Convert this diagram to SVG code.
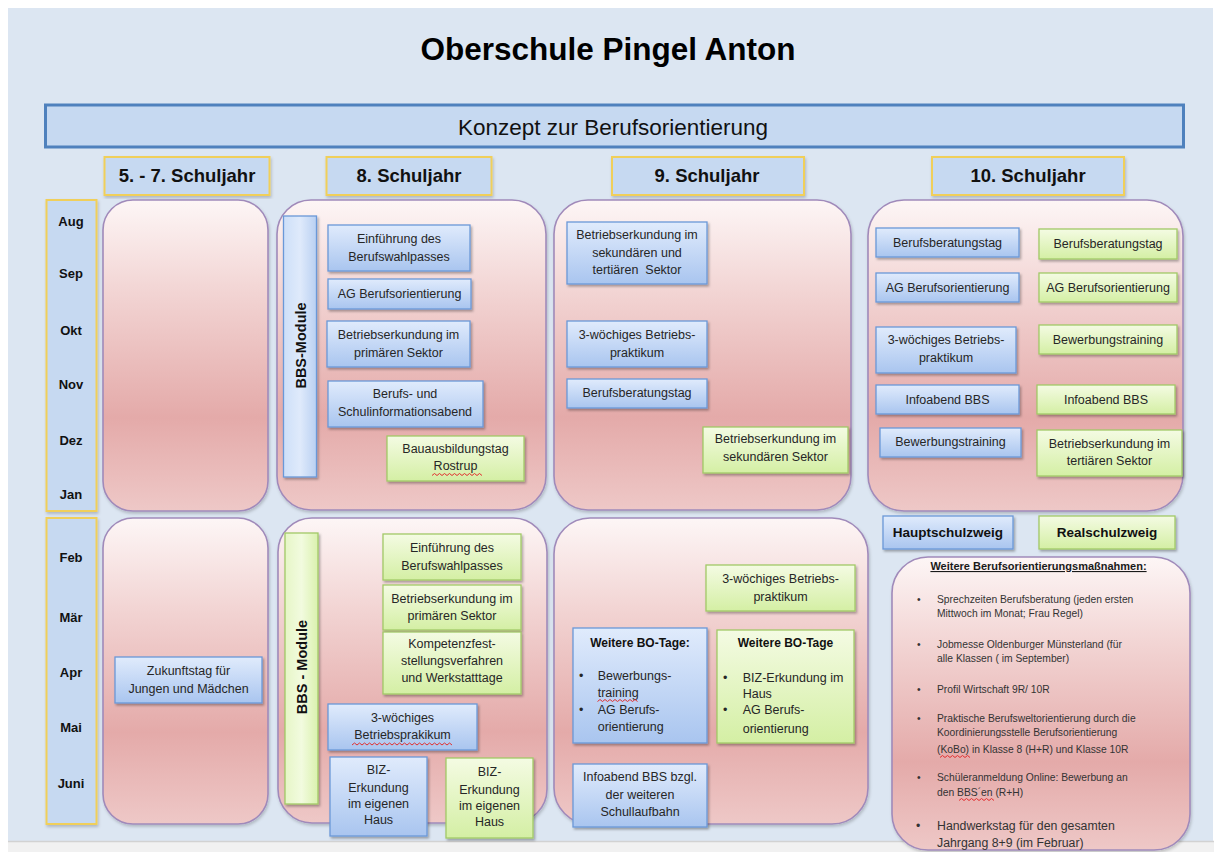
<svg xmlns="http://www.w3.org/2000/svg" width="1214" height="852" viewBox="0 0 1214 852">
<defs>
<linearGradient id="gPink" x1="0" y1="0" x2="0" y2="1">
<stop offset="0" stop-color="#fdf6f6"/><stop offset="0.3" stop-color="#f2d4d3"/><stop offset="0.7" stop-color="#e4aaa9"/><stop offset="1" stop-color="#eec8c7"/>
</linearGradient>
<linearGradient id="gBlue" x1="0" y1="0" x2="0" y2="1">
<stop offset="0" stop-color="#e0ebfc"/><stop offset="1" stop-color="#a9c5ef"/>
</linearGradient>
<linearGradient id="gGreen" x1="0" y1="0" x2="0" y2="1">
<stop offset="0" stop-color="#f4fbe3"/><stop offset="1" stop-color="#d4efa4"/>
</linearGradient>
<linearGradient id="gBlueBar" x1="0" y1="0" x2="1" y2="0">
<stop offset="0" stop-color="#cddff8"/><stop offset="0.5" stop-color="#dfeafb"/><stop offset="1" stop-color="#b9d0f2"/>
</linearGradient>
<linearGradient id="gGreenBar" x1="0" y1="0" x2="1" y2="0">
<stop offset="0" stop-color="#e6f6c6"/><stop offset="0.5" stop-color="#f2fbdf"/><stop offset="1" stop-color="#daf1ae"/>
</linearGradient>
<filter id="sh" x="-10%" y="-10%" width="130%" height="140%">
<feDropShadow dx="1.5" dy="2" stdDeviation="1.2" flood-color="#000" flood-opacity="0.3"/>
</filter>
<filter id="shp" x="-5%" y="-5%" width="115%" height="115%">
<feDropShadow dx="1" dy="2" stdDeviation="1.5" flood-color="#000" flood-opacity="0.2"/>
</filter>
</defs>
<style>
text{font-family:"Liberation Sans",Arial,sans-serif;fill:#262626}
.t{font-size:12.5px;text-anchor:middle}
.tl{font-size:12.5px}
.b{font-weight:bold}
.bt{font-size:12px;font-weight:bold;text-anchor:middle;fill:#111}
.lg{font-size:13.5px;font-weight:bold;text-anchor:middle;fill:#111}
.mon{font-size:13px;font-weight:bold;text-anchor:middle;fill:#111}
.hdrt{font-size:18.5px;font-weight:bold;text-anchor:middle;fill:#111}
.li{font-size:10.3px;fill:#333}
.li2{font-size:12.3px;fill:#333}
.bx-b{fill:url(#gBlue);stroke:#6a98d8;stroke-width:1.3;filter:url(#sh)}
.bx-g{fill:url(#gGreen);stroke:#a2c967;stroke-width:1.3;filter:url(#sh)}
.panel{fill:url(#gPink);stroke:#a08aba;stroke-width:1.6;filter:url(#shp)}
.hdr{fill:#c6d9f1;stroke:#f0cf5a;stroke-width:2;filter:url(#shp)}
.sq{fill:none;stroke:#e23030;stroke-width:1}
</style>

<rect x="0" y="0" width="1214" height="852" fill="#ffffff"/>
<rect x="8" y="8" width="1205" height="833" fill="#dce6f2"/>
<rect x="8" y="841" width="1206" height="11" fill="#f1f1f1"/>
<line x1="8" y1="841.5" x2="1214" y2="841.5" stroke="#d2d2d2" stroke-width="1.5"/>

<g id="title">
<text x="608" y="60" text-anchor="middle" style="font-size:31.5px;font-weight:bold;fill:#000">Oberschule Pingel Anton</text>
</g>

<g id="banner">
<rect x="45.5" y="105" width="1138" height="42" fill="#c6d9f1" stroke="#4f81bd" stroke-width="3"/>
<text x="613" y="134.5" text-anchor="middle" style="font-size:22.5px;fill:#111">Konzept zur Berufsorientierung</text>
</g>

<g id="hdr57"><rect class="hdr" x="104.5" y="157" width="165" height="38"/><text class="hdrt" x="187" y="182">5. - 7. Schuljahr</text></g>
<g id="hdr8"><rect class="hdr" x="326.5" y="157" width="165" height="38"/><text class="hdrt" x="409" y="182">8. Schuljahr</text></g>
<g id="hdr9"><rect class="hdr" x="612" y="157" width="192" height="38"/><text class="hdrt" x="707" y="182">9. Schuljahr</text></g>
<g id="hdr10"><rect class="hdr" x="932" y="157" width="192" height="38"/><text class="hdrt" x="1028" y="182">10. Schuljahr</text></g>

<g id="months1">
<rect class="hdr" x="46.5" y="200" width="50" height="311"/>
<text class="mon" x="71" y="225.5">Aug</text>
<text class="mon" x="71" y="277.5">Sep</text>
<text class="mon" x="71" y="334.5">Okt</text>
<text class="mon" x="71" y="388.5">Nov</text>
<text class="mon" x="71" y="444.5">Dez</text>
<text class="mon" x="71" y="498.5">Jan</text>
</g>
<g id="months2">
<rect class="hdr" x="46.5" y="518" width="50" height="306"/>
<text class="mon" x="71" y="562">Feb</text>
<text class="mon" x="71" y="621.5">Mär</text>
<text class="mon" x="71" y="676.5">Apr</text>
<text class="mon" x="71" y="731.5">Mai</text>
<text class="mon" x="71" y="787.5">Juni</text>
</g>

<g id="panel1"><rect class="panel" x="103" y="200" width="165" height="311" rx="30"/></g>

<g id="panel2">
<rect class="panel" x="277" y="200" width="269" height="310" rx="34"/>
<g id="bbs1"><rect x="283.5" y="216" width="33" height="261" fill="url(#gBlueBar)" stroke="#6a98d8" stroke-width="1.3" filter="url(#sh)"/>
<text transform="translate(300.5,345.5) rotate(-90)" text-anchor="middle" dominant-baseline="central" style="font-size:14.5px;font-weight:bold;fill:#111">BBS-Module</text></g>
<g id="p2b1"><rect class="bx-b" x="328" y="225" width="142" height="46"/><text class="t" x="399" y="243.4">Einführung des</text><text class="t" x="399" y="261.1">Berufswahlpasses</text></g>
<g id="p2b2"><rect class="bx-b" x="328" y="279" width="143" height="30"/><text class="t" x="399.5" y="297.6">AG Berufsorientierung</text></g>
<g id="p2b3"><rect class="bx-b" x="327" y="321" width="143" height="46"/><text class="t" x="398.5" y="338.7">Betriebserkundung im</text><text class="t" x="398.5" y="356.7">primären Sektor</text></g>
<g id="p2b4"><rect class="bx-b" x="328" y="381" width="155" height="46"/><text class="t" x="405" y="398.4">Berufs- und</text><text class="t" x="405" y="416.1">Schulinformationsabend</text></g>
<g id="p2g1"><rect class="bx-g" x="387" y="436" width="137" height="45"/><text class="t" x="455.5" y="452.7">Bauausbildungstag</text><text class="t" x="455.5" y="470.4">Rostrup</text>
<path class="sq" d="M432,475.5 l2.5,-2 l2.5,2 l2.5,-2 l2.5,2 l2.5,-2 l2.5,2 l2.5,-2 l2.5,2 l2.5,-2 l2.5,2 l2.5,-2 l2.5,2 l2.5,-2 l2.5,2 l2.5,-2 l2.5,2 l2.5,-2 l2.5,2 l2.5,-2 l2.5,2"/></g>
</g>

<g id="panel3">
<rect class="panel" x="554" y="200" width="297" height="310" rx="34"/>
<g id="p3b1"><rect class="bx-b" x="567" y="222" width="140" height="62"/><text class="t" x="637" y="239.4">Betriebserkundung im</text><text class="t" x="637" y="257.1">sekundären und</text><text class="t" x="637" y="273.7" xml:space="preserve">tertiären  Sektor</text></g>
<g id="p3b2"><rect class="bx-b" x="567" y="321" width="140" height="46"/><text class="t" x="637" y="338.7">3-wöchiges Betriebs-</text><text class="t" x="637" y="356.7">praktikum</text></g>
<g id="p3b3"><rect class="bx-b" x="567" y="379" width="140" height="29"/><text class="t" x="637" y="397">Berufsberatungstag</text></g>
<g id="p3g1"><rect class="bx-g" x="703" y="427" width="145" height="46"/><text class="t" x="775.5" y="443.4">Betriebserkundung im</text><text class="t" x="775.5" y="461.1">sekundären Sektor</text></g>
</g>

<g id="panel4">
<rect class="panel" x="868" y="200" width="315" height="311" rx="36"/>
<g id="p4b1"><rect class="bx-b" x="876" y="228" width="143" height="29"/><text class="t" x="947.5" y="246.5">Berufsberatungstag</text></g>
<g id="p4g1"><rect class="bx-g" x="1039" y="229" width="138" height="30"/><text class="t" x="1108" y="248">Berufsberatungstag</text></g>
<g id="p4b2"><rect class="bx-b" x="876" y="273" width="143" height="29"/><text class="t" x="947.5" y="291.7">AG Berufsorientierung</text></g>
<g id="p4g2"><rect class="bx-g" x="1039" y="273" width="138" height="29"/><text class="t" x="1108" y="291.7">AG Berufsorientierung</text></g>
<g id="p4b3"><rect class="bx-b" x="876" y="327" width="140" height="46"/><text class="t" x="946" y="344.4">3-wöchiges Betriebs-</text><text class="t" x="946" y="362.1">praktikum</text></g>
<g id="p4g3"><rect class="bx-g" x="1039" y="325" width="138" height="29"/><text class="t" x="1108" y="344">Bewerbungstraining</text></g>
<g id="p4b4"><rect class="bx-b" x="876" y="385" width="143" height="29"/><text class="t" x="947.5" y="403.7">Infoabend BBS</text></g>
<g id="p4g4"><rect class="bx-g" x="1037" y="385" width="138" height="29"/><text class="t" x="1106" y="403.7">Infoabend BBS</text></g>
<g id="p4b5"><rect class="bx-b" x="880" y="428" width="141" height="29"/><text class="t" x="950.5" y="446.1">Bewerbungstraining</text></g>
<g id="p4g5"><rect class="bx-g" x="1037" y="430" width="145" height="46"/><text class="t" x="1109.5" y="447.7">Betriebserkundung im</text><text class="t" x="1109.5" y="465.4">tertiären Sektor</text></g>
</g>

<g id="panel5">
<rect class="panel" x="103" y="518" width="165" height="306" rx="30"/>
<g id="p5b1"><rect class="bx-b" x="115" y="657" width="147" height="46"/><text class="t" x="188.5" y="675.1">Zukunftstag für</text><text class="t" x="188.5" y="692.7">Jungen und Mädchen</text></g>
</g>

<g id="panel6">
<rect class="panel" x="278" y="518" width="269" height="305" rx="34"/>
<g id="bbs2"><rect x="285" y="533" width="33" height="271" fill="url(#gGreenBar)" stroke="#a2c967" stroke-width="1.3" filter="url(#sh)"/>
<text transform="translate(302,667) rotate(-90)" text-anchor="middle" dominant-baseline="central" style="font-size:14.5px;font-weight:bold;fill:#111">BBS - Module</text></g>
<g id="p6g1"><rect class="bx-g" x="383" y="534" width="138" height="46"/><text class="t" x="452" y="552.1">Einführung des</text><text class="t" x="452" y="570.1">Berufswahlpasses</text></g>
<g id="p6g2"><rect class="bx-g" x="383" y="585" width="138" height="45"/><text class="t" x="452" y="602.7">Betriebserkundung im</text><text class="t" x="452" y="620.4">primären Sektor</text></g>
<g id="p6g3"><rect class="bx-g" x="383" y="632" width="138" height="62"/><text class="t" x="452" y="647.7">Kompetenzfest-</text><text class="t" x="452" y="665.4">stellungsverfahren</text><text class="t" x="452" y="681.7">und Werkstatttage</text></g>
<g id="p6b1"><rect class="bx-b" x="328" y="704" width="149" height="46"/><text class="t" x="402.5" y="721.7">3-wöchiges</text><text class="t" x="402.5" y="739.4">Betriebsprakikum</text>
<path class="sq" d="M352,745 l2.5,-2 l2.5,2 l2.5,-2 l2.5,2 l2.5,-2 l2.5,2 l2.5,-2 l2.5,2 l2.5,-2 l2.5,2 l2.5,-2 l2.5,2 l2.5,-2 l2.5,2 l2.5,-2 l2.5,2 l2.5,-2 l2.5,2 l2.5,-2 l2.5,2 l2.5,-2 l2.5,2 l2.5,-2 l2.5,2 l2.5,-2 l2.5,2 l2.5,-2 l2.5,2 l2.5,-2 l2.5,2 l2.5,-2 l2.5,2 l2.5,-2 l2.5,2 l2.5,-2 l2.5,2 l2.5,-2 l2.5,2 l2.5,-2 l2.5,2"/></g>
<g id="p6b2"><rect class="bx-b" x="330" y="757" width="97" height="79"/><text class="t" x="378.5" y="774.4">BIZ-</text><text class="t" x="378.5" y="792.1">Erkundung</text><text class="t" x="378.5" y="808.4">im eigenen</text><text class="t" x="378.5" y="824.4">Haus</text></g>
<g id="p6g4"><rect class="bx-g" x="446" y="758" width="87" height="80"/><text class="t" x="489.5" y="776.1">BIZ-</text><text class="t" x="489.5" y="793.7">Erkundung</text><text class="t" x="489.5" y="810.4">im eigenen</text><text class="t" x="489.5" y="826.4">Haus</text></g>
</g>

<g id="panel7">
<rect class="panel" x="554" y="518" width="314" height="306" rx="36"/>
<g id="p7g1"><rect class="bx-g" x="706" y="565" width="149" height="46"/><text class="t" x="780.5" y="583.4">3-wöchiges Betriebs-</text><text class="t" x="780.5" y="601.1">praktikum</text></g>
<g id="p7b1"><rect class="bx-b" x="573" y="628" width="134" height="115"/>
<text class="bt" x="640" y="647">Weitere BO-Tage:</text>
<text class="tl" x="579" y="680.1">•</text><text class="tl" x="597.7" y="680.1">Bewerbungs-</text>
<text class="tl" x="597.7" y="697.1">training</text>
<path class="sq" d="M597.5,701.5 l2.5,-2 l2.5,2 l2.5,-2 l2.5,2 l2.5,-2 l2.5,2 l2.5,-2 l2.5,2 l2.5,-2 l2.5,2 l2.5,-2 l2.5,2 l2.5,-2 l2.5,2 l2.5,-2 l2.5,2"/>
<text class="tl" x="579" y="713.7">•</text><text class="tl" x="597.7" y="713.7">AG Berufs-</text>
<text class="tl" x="597.7" y="731.1">orientierung</text></g>
<g id="p7g2"><rect class="bx-g" x="717" y="630" width="137" height="113"/>
<text class="bt" x="785.5" y="647">Weitere BO-Tage</text>
<text class="tl" x="723" y="682.1">•</text><text class="tl" x="742.7" y="682.1">BIZ-Erkundung im</text>
<text class="tl" x="742.7" y="697.7">Haus</text>
<text class="tl" x="723" y="714.4">•</text><text class="tl" x="742.7" y="714.4">AG Berufs-</text>
<text class="tl" x="742.7" y="732.7">orientierung</text></g>
<g id="p7b2"><rect class="bx-b" x="573" y="764" width="134" height="63"/><text class="t" x="640" y="781.1">Infoabend BBS bzgl.</text><text class="t" x="640" y="799.4">der weiteren</text><text class="t" x="640" y="816.1">Schullaufbahn</text></g>
</g>

<g id="legendH"><rect class="bx-b" x="883" y="516" width="130" height="33"/><text class="lg" x="948" y="537">Hauptschulzweig</text></g>
<g id="legendR"><rect class="bx-g" x="1039" y="516" width="136" height="33"/><text class="lg" x="1107" y="537">Realschulzweig</text></g>

<g id="panel8">
<rect class="panel" x="892" y="557" width="298" height="293" rx="36"/>
<text x="1038.5" y="570" text-anchor="middle" text-decoration="underline" style="font-size:11px;font-weight:bold;fill:#1a1a1a">Weitere Berufsorientierungsmaßnahmen:</text>
<text class="li" x="917" y="603">•</text><text class="li" x="937" y="603">Sprechzeiten Berufsberatung (jeden ersten</text>
<text class="li" x="937" y="617">Mittwoch im Monat; Frau Regel)</text>
<text class="li" x="917" y="648">•</text><text class="li" x="937" y="648">Jobmesse Oldenburger Münsterland (für</text>
<text class="li" x="937" y="662">alle Klassen ( im September)</text>
<text class="li" x="917" y="693">•</text><text class="li" x="937" y="693">Profil Wirtschaft 9R/ 10R</text>
<text class="li" x="917" y="722">•</text><text class="li" x="937" y="722">Praktische Berufsweltorientierung durch die</text>
<text class="li" x="937" y="736">Koordinierungsstelle Berufsorientierung</text>
<text class="li" x="937" y="753">(KoBo) in Klasse 8 (H+R) und Klasse 10R</text>
<path class="sq" d="M940,757.5 l2.5,-2 l2.5,2 l2.5,-2 l2.5,2 l2.5,-2 l2.5,2 l2.5,-2 l2.5,2 l2.5,-2 l2.5,2 l2.5,-2 l2.5,2"/>
<text class="li" x="917" y="781.3">•</text><text class="li" x="937" y="781.3">Schüleranmeldung Online: Bewerbung an</text>
<text class="li" x="937" y="796.3">den BBS´en (R+H)</text>
<path class="sq" d="M959,800.5 l2.5,-2 l2.5,2 l2.5,-2 l2.5,2 l2.5,-2 l2.5,2 l2.5,-2 l2.5,2 l2.5,-2 l2.5,2 l2.5,-2 l2.5,2 l2.5,-2 l2.5,2"/>
<text class="li2" x="916" y="830.3">•</text><text class="li2" x="937" y="830.3">Handwerkstag für den gesamten</text>
<text class="li2" x="937" y="846.6">Jahrgang 8+9 (im Februar)</text>
</g>

<g id="connectors"/>
</svg>
